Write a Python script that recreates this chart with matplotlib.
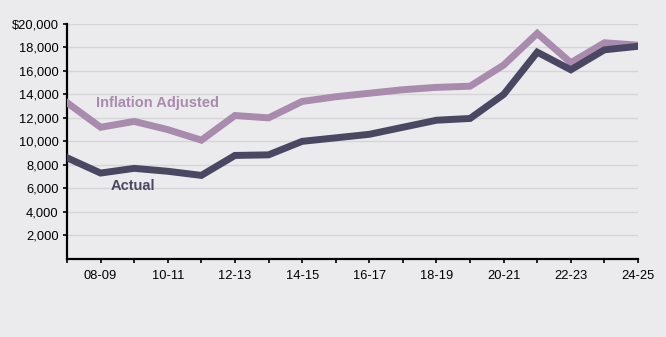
import matplotlib
matplotlib.use("Agg")
import matplotlib.pyplot as plt
from matplotlib.ticker import FuncFormatter

plt.rcParams['font.family'] = ['Liberation Sans', 'DejaVu Sans']

# school years 07-08 .. 24-25
years = ['07-08', '08-09', '09-10', '10-11', '11-12', '12-13', '13-14', '14-15', '15-16',
         '16-17', '17-18', '18-19', '19-20', '20-21', '21-22', '22-23', '23-24', '24-25']
inflation_adjusted = [13300, 11200, 11700, 11000, 10100, 12200, 12000, 13400, 13800,
                      14100, 14400, 14600, 14700, 16500, 19200, 16700, 18400, 18200]
actual = [8600, 7300, 7700, 7450, 7100, 8800, 8850, 10000, 10300,
          10600, 11200, 11800, 11950, 14000, 17600, 16100, 17800, 18100]

bg = '#ebebed'
c_infl = '#a88bad'
c_act = '#4a4762'

fig = plt.figure(figsize=(6.66, 3.37), dpi=100, facecolor=bg)
ax = fig.add_axes([0.1006, 0.2323, 0.8574, 0.6965])
ax.set_facecolor(bg)

x = list(range(len(years)))
ax.plot(x, inflation_adjusted, color=c_infl, lw=5, solid_joinstyle='miter', zorder=3)
ax.plot(x, actual, color=c_act, lw=5, solid_joinstyle='miter', zorder=3)

ax.set_xlim(0, len(years) - 1)
ax.set_ylim(0, 20000)

ax.set_yticks(range(2000, 20001, 2000))
ax.yaxis.set_major_formatter(FuncFormatter(lambda v, p: '$20,000' if v == 20000 else f'{int(v):,}'))
for y in range(2000, 20001, 2000):
    ax.axhline(y, color='#d6d6d8', lw=1, zorder=1)

ax.set_xticks(x)
ax.set_xticklabels([lab if i % 2 == 1 else '' for i, lab in enumerate(years)])

for s in ['top', 'right']:
    ax.spines[s].set_visible(False)
for s in ['left', 'bottom']:
    ax.spines[s].set_linewidth(1.6)
    ax.spines[s].set_color('black')

ax.tick_params(axis='y', length=3, width=1.2, direction='out', labelsize=9.3, pad=3, colors='black')
ax.tick_params(axis='x', length=3, width=1.2, direction='out', labelsize=9.3, pad=5, colors='black')

ax.text(0.85, 13300, 'Inflation Adjusted', color=c_infl, fontsize=10.5, fontweight='bold',
        va='center', ha='left')
ax.text(1.3, 6200, 'Actual', color=c_act, fontsize=10.5, fontweight='bold',
        va='center', ha='left')

fig.savefig('out.png', dpi=100, facecolor=bg)
